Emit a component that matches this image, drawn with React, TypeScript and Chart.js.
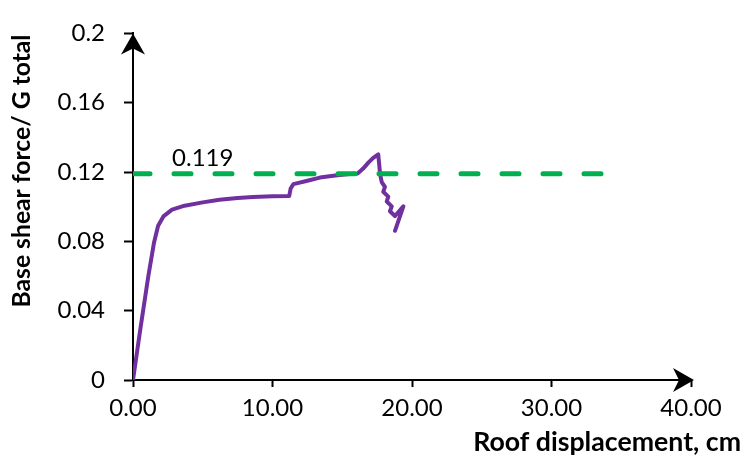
import React, { useEffect, useRef } from "react";
import { Chart, registerables } from "chart.js";

Chart.register(...registerables);

// Pushover curve: roof displacement (cm) vs base shear / G total
const dispCm = [
  0, 0.5, 1.1, 1.5, 1.8, 2.2, 2.8, 3.7, 5.0, 6.2, 7.5, 8.6, 10.0, 11.2, 11.3, 11.5,
  12.5, 13.4, 14.5, 15.5, 16.1, 16.5, 16.87, 17.2, 17.58, 17.71, 17.83, 18.06, 17.94,
  18.3, 18.19, 18.55, 18.42, 18.78, 19.38, 18.78,
];
const shearRatio = [
  0, 0.028, 0.06, 0.079, 0.089, 0.0946, 0.0983, 0.1006, 0.1025, 0.104, 0.105, 0.1056,
  0.106, 0.1062, 0.1105, 0.113, 0.115, 0.1168, 0.118, 0.1188, 0.1192, 0.122, 0.1254,
  0.128, 0.1302, 0.119, 0.1142, 0.1114, 0.1086, 0.1058, 0.103, 0.1002, 0.0974, 0.0946,
  0.1002, 0.0861,
];

const refLevel = 0.119;
const refLineX = [0, 34.2];
const refLabel = "0.119";

const xTicks = [0, 10, 20, 30, 40];
const yTicks = [0, 0.04, 0.08, 0.12, 0.16, 0.2];

const xTitle = "Roof displacement, cm";
const yTitle = "Base shear force/ G total";

const FONT = "Lato, 'Open Sans', sans-serif";

function fitFont(ctx: CanvasRenderingContext2D, text: string, target: number, base: number) {
  ctx.font = `bold ${base}px ${FONT}`;
  const w = ctx.measureText(text).width;
  const size = (base * target) / w;
  ctx.font = `bold ${size.toFixed(2)}px ${FONT}`;
}

export default function App() {
  const ref = useRef<HTMLCanvasElement | null>(null);

  useEffect(() => {
    if (!ref.current) return;

    const decorations = {
      id: "decorations",
      afterDraw(chart: any) {
        const ctx = chart.ctx;
        const xs = chart.scales.x;
        const ys = chart.scales.y;
        const ca = chart.chartArea;
        ctx.save();
        // arrowheads
        ctx.fillStyle = "#000";
        const ax = ca.left;
        const topY = ys.getPixelForValue(0.2);
        ctx.beginPath();
        ctx.moveTo(ax, topY);
        ctx.lineTo(ax - 12, topY + 21);
        ctx.lineTo(ax, topY + 15);
        ctx.lineTo(ax + 12, topY + 21);
        ctx.closePath();
        ctx.fill();
        const ay = ca.bottom;
        const rx = xs.getPixelForValue(40) + 3;
        ctx.beginPath();
        ctx.moveTo(rx, ay);
        ctx.lineTo(rx - 21, ay - 12);
        ctx.lineTo(rx - 15, ay);
        ctx.lineTo(rx - 21, ay + 12);
        ctx.closePath();
        ctx.fill();

        // reference label
        ctx.fillStyle = "#000";
        ctx.font = `24px ${FONT}`;
        ctx.textAlign = "left";
        ctx.textBaseline = "middle";
        ctx.fillText(refLabel, xs.getPixelForValue(2.8), ys.getPixelForValue(refLevel) - 16);

        // axis titles
        fitFont(ctx, xTitle, 268, 24);
        ctx.textAlign = "right";
        ctx.textBaseline = "middle";
        ctx.fillText(xTitle, 741, 442);
        fitFont(ctx, yTitle, 273, 24);
        ctx.translate(22, 171);
        ctx.rotate(-Math.PI / 2);
        ctx.textAlign = "center";
        ctx.fillText(yTitle, 0, 0);
        ctx.restore();
      },
    };

    const chart = new Chart(ref.current, {
      type: "scatter",
      data: {
        datasets: [
          {
            label: "Reference",
            data: refLineX.map((x) => ({ x, y: refLevel })),
            showLine: true,
            borderColor: "#00B050",
            borderWidth: 5,
            borderDash: [17, 24],
            borderCapStyle: "round",
            pointRadius: 0,
            fill: false,
          },
          {
            label: "Pushover",
            data: dispCm.map((x, i) => ({ x, y: shearRatio[i] })),
            showLine: true,
            borderColor: "#7030A0",
            borderWidth: 4,
            borderJoinStyle: "round",
            borderCapStyle: "round",
            pointRadius: 0,
            tension: 0,
            fill: false,
          },
        ],
      },
      options: {
        animation: false,
        responsive: true,
        maintainAspectRatio: false,
        layout: { padding: { left: 0, right: 54, top: 24, bottom: 0 } },
        plugins: {
          legend: { display: false },
          tooltip: { enabled: false },
          title: { display: false },
        },
        scales: {
          x: {
            type: "linear",
            min: 0,
            max: 40,
            afterBuildTicks: (s: any) => {
              s.ticks = xTicks.map((v) => ({ value: v }));
            },
            afterFit: (s: any) => {
              s.height = 86;
            },
            ticks: {
              color: "#000",
              font: { family: FONT, size: 24 },
              padding: 7,
              maxRotation: 0,
              callback: (v: any) => Number(v).toFixed(2),
            },
            grid: {
              drawOnChartArea: false,
              drawTicks: true,
              tickLength: 7,
              tickColor: "#000",
              tickWidth: 2,
            },
            border: { display: true, color: "#000", width: 2 },
          },
          y: {
            type: "linear",
            min: 0,
            max: 0.2,
            afterBuildTicks: (s: any) => {
              s.ticks = yTicks.map((v) => ({ value: v }));
            },
            afterFit: (s: any) => {
              s.width = 133;
            },
            ticks: {
              color: "#000",
              font: { family: FONT, size: 24 },
              padding: 19,
              callback: (v: any) => String(Number(Number(v).toFixed(2))),
            },
            grid: {
              drawOnChartArea: false,
              drawTicks: true,
              tickLength: 9,
              tickColor: "#000",
              tickWidth: 2,
            },
            border: { display: true, color: "#000", width: 2 },
          },
        },
      },
      plugins: [decorations],
    });

    return () => chart.destroy();
  }, []);

  return (
    <div style={{ position: "fixed", left: 0, top: 0, width: 745, height: 466, background: "#fff" }}>
      <canvas ref={ref} />
    </div>
  );
}
